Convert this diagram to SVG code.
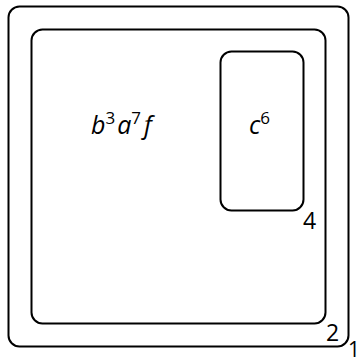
<svg xmlns="http://www.w3.org/2000/svg" width="361" height="364" viewBox="0 0 361 364">
<style>
.box{fill:none;stroke:#000;stroke-width:2}
.t{font-family:"Open Sans","DejaVu Sans",sans-serif;fill:#000}
.m{font-style:italic;font-size:25px}
.s{font-size:17px;font-style:normal}
.lab{font-size:23px}
</style>
<rect width="361" height="364" fill="#fff"/>
<g id="zone1">
<rect class="box" x="8.5" y="6.5" width="340" height="340" rx="11"/>
<text class="t" x="348" y="357" font-size="21">1</text>
</g>
<g id="zone2">
<rect class="box" x="31.5" y="29.5" width="294" height="294" rx="11"/>
<text class="t lab" x="326" y="341">2</text>
<text class="t m" x="91" y="134">b<tspan class="s" dy="-10">3</tspan><tspan dy="10" dx="2">a</tspan><tspan class="s" dy="-10">7</tspan><tspan dy="10" dx="3">f</tspan></text>
</g>
<g id="zone4">
<rect class="box" x="220.5" y="51.5" width="83" height="159" rx="11"/>
<text class="t lab" x="303" y="229">4</text>
<text class="t m" x="249" y="134">c<tspan class="s" dy="-10">6</tspan></text>
</g>
<g id="connectors"></g>
</svg>
